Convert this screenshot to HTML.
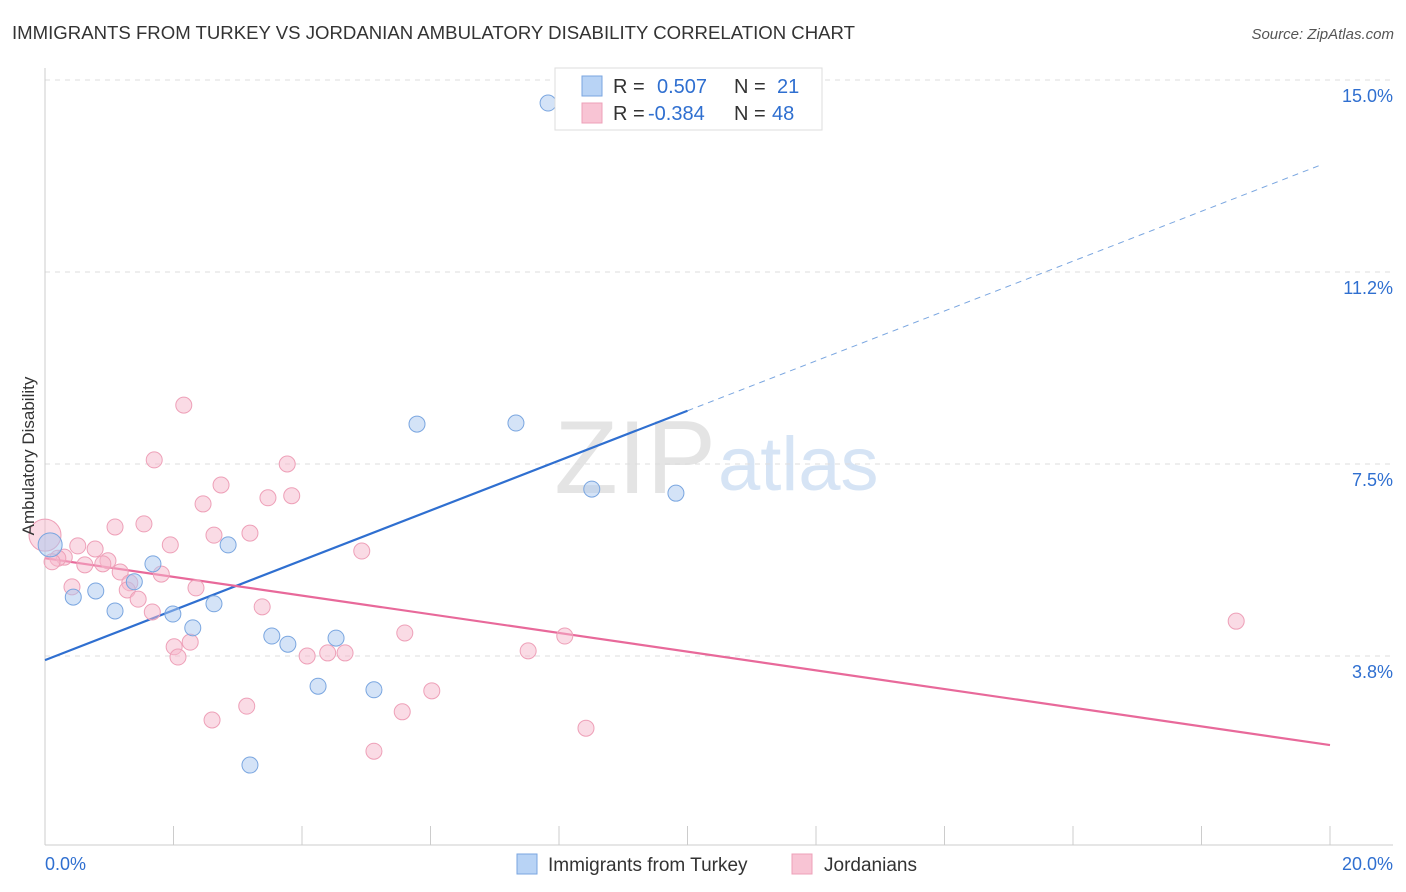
<!DOCTYPE html>
<html><head><meta charset="utf-8"><style>
body{margin:0;background:#fff;font-family:"Liberation Sans",sans-serif;}
#wrap{position:relative;width:1406px;height:892px;overflow:hidden;}
svg text{font-family:"Liberation Sans",sans-serif;}
</style></head><body>
<div id="wrap">
<svg id="c" width="1406" height="892">
<text x="12" y="39" font-size="18" fill="#333" textLength="843" lengthAdjust="spacingAndGlyphs">IMMIGRANTS FROM TURKEY VS JORDANIAN AMBULATORY DISABILITY CORRELATION CHART</text>
<text x="1394" y="39" font-size="15" fill="#555" text-anchor="end" font-style="italic">Source: ZipAtlas.com</text>
<text x="716" y="493" font-size="104" fill="#e4e4e4" text-anchor="end" font-family="Liberation Serif">ZIP</text>
<text x="718" y="490" font-size="76" fill="#d6e4f5">atlas</text>
<g id="grid"></g><g id="axes"></g><g id="lines"></g><g id="pts"></g>
<text x="34" y="456" font-size="17" fill="#333" text-anchor="middle" transform="rotate(-90 34 456)">Ambulatory Disability</text>
<g>
<rect x="555" y="68" width="267" height="62" fill="#fff" stroke="#ddd"/>
<rect x="582" y="76" width="20" height="20" fill="#b8d3f5" stroke="#7aa6e0"/>
<rect x="582" y="103" width="20" height="20" fill="#f8c4d4" stroke="#eea0b8"/>
<text x="613" y="93" font-size="20" fill="#333">R =</text>
<text x="657" y="93" font-size="20" fill="#2f6fd0">0.507</text>
<text x="734" y="93" font-size="20" fill="#333">N =</text>
<text x="777" y="93" font-size="20" fill="#2f6fd0">21</text>
<text x="613" y="120" font-size="20" fill="#333">R =</text>
<text x="648" y="120" font-size="20" fill="#2f6fd0">-0.384</text>
<text x="734" y="120" font-size="20" fill="#333">N =</text>
<text x="772" y="120" font-size="20" fill="#2f6fd0">48</text>
</g>
<g>
<rect x="517" y="854" width="20" height="20" fill="#b8d3f5" stroke="#7aa6e0"/>
<text x="548" y="871" font-size="19" fill="#333">Immigrants from Turkey</text>
<rect x="792" y="854" width="20" height="20" fill="#f8c4d4" stroke="#eea0b8"/>
<text x="824" y="871" font-size="19" fill="#333">Jordanians</text>
</g>
</svg>
</div>
<script>
const xTicks=[0,2,4,6,8,10,12,14,16,18,20];
const yTicks=[3.75,7.5,11.25,15];
const yTickLabels=["3.8%","7.5%","11.2%","15.0%"];
const xEndLabels=["0.0%","20.0%"];
const blueX=[7.83,5.79,7.33,8.51,9.82,2.85,1.68,1.39,0.44,0.79,1.09,1.99,2.63,2.30,3.53,3.78,4.53,4.25,5.12,3.19,0.08];
const blueY=[14.55,8.28,8.30,7.01,6.93,5.92,5.55,5.20,4.90,5.02,4.63,4.57,4.77,4.30,4.14,3.98,4.10,3.16,3.09,1.62,5.92];
const pinkX=[2.16,1.70,3.77,2.74,3.84,3.47,2.46,1.09,1.54,3.19,2.63,1.95,4.93,0.51,0.78,0.98,0.62,0.90,0.30,0.20,0.11,1.17,1.81,1.32,2.35,0.42,1.28,1.45,1.67,3.38,5.60,8.09,2.01,2.26,2.07,4.08,4.40,4.67,7.52,18.54,3.14,6.02,5.56,2.60,8.42,5.12,0];
const pinkY=[8.65,7.58,7.50,7.09,6.88,6.84,6.72,6.27,6.33,6.15,6.11,5.92,5.80,5.90,5.84,5.61,5.53,5.55,5.68,5.66,5.59,5.39,5.35,5.18,5.08,5.10,5.04,4.86,4.61,4.71,4.20,4.14,3.93,4.02,3.73,3.75,3.81,3.81,3.85,4.43,2.77,3.07,2.66,2.50,2.34,1.89,6.11];
const blueTrend=[3.67,0.487];
const pinkTrend=[5.66,-0.1825];
const NS="http://www.w3.org/2000/svg";
const X=v=>45+v*64.25, Y=v=>80+(15-v)*51.2;
function mk(tag,attrs,parent){const e=document.createElementNS(NS,tag);for(const k in attrs)e.setAttribute(k,attrs[k]);document.getElementById(parent).appendChild(e);return e;}
yTicks.forEach((t,i)=>{
 const g=mk('line',{x1:45,x2:1393,y1:Y(t),y2:Y(t),stroke:'#ddd','stroke-dasharray':'5,5'},'grid');
 
 
 const l=mk('text',{x:1393,y:Y(t)+22,'font-size':18,fill:'#2f6fd0','text-anchor':'end'},'axes');
 l.textContent=yTickLabels[i];
 
 
});
const ax=mk('line',{x1:45,x2:1393,y1:845,y2:845,stroke:'#ccc'},'axes');


const ay=mk('line',{x1:45,x2:45,y1:68,y2:845,stroke:'#ccc'},'axes');


xTicks.forEach(t=>{
 const tk=mk('line',{x1:X(t),x2:X(t),y1:826,y2:845,stroke:'#ccc'},'axes');
 
 
});
const l0=mk('text',{x:45,y:870,'font-size':18,fill:'#2f6fd0'},'axes');l0.textContent=xEndLabels[0];


const l1=mk('text',{x:1393,y:870,'font-size':18,fill:'#2f6fd0','text-anchor':'end'},'axes');l1.textContent=xEndLabels[1];


const bt=v=>blueTrend[0]+blueTrend[1]*v, pt=v=>pinkTrend[0]+pinkTrend[1]*v;
const b1=mk('line',{x1:X(0),y1:Y(bt(0)),x2:X(10),y2:Y(bt(10)),stroke:'#2f6fd0','stroke-width':2.2},'lines');


const b2=mk('line',{x1:X(10),y1:Y(bt(10)),x2:X(19.85),y2:Y(bt(19.85)),stroke:'#7aa6e0','stroke-width':1,'stroke-dasharray':'6,5'},'lines');


const p1=mk('line',{x1:X(0),y1:Y(pt(0)),x2:X(20),y2:Y(pt(20)),stroke:'#e8699a','stroke-width':2.2},'lines');


pinkX.forEach((x,i)=>{
 const c=mk('circle',{cx:X(x),cy:Y(pinkY[i]),r:i==pinkX.length-1?16:8,fill:'#f5b8cb','fill-opacity':0.5,stroke:'#eea0b8','stroke-width':1},'pts');
 
 
});
blueX.forEach((x,i)=>{
 const c=mk('circle',{cx:X(x),cy:Y(blueY[i]),r:i==blueX.length-1?12:8,fill:'#a9c8f0','fill-opacity':0.5,stroke:'#7aa6e0','stroke-width':1},'pts');
 
 
});
</script>
</body></html>
